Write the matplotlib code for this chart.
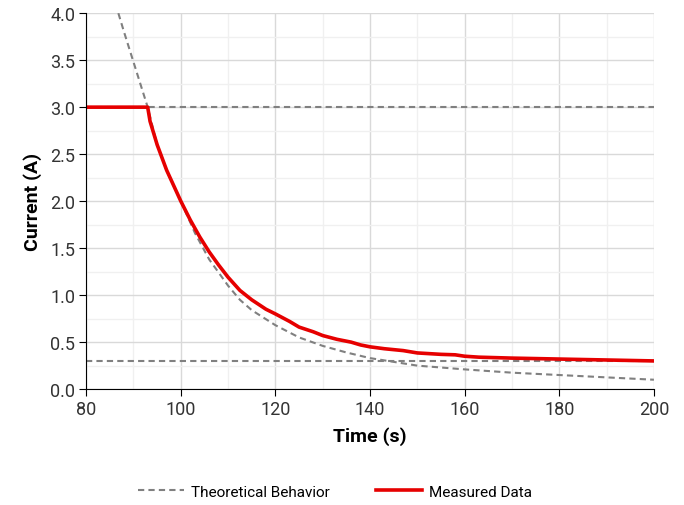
import numpy as np
import matplotlib.pyplot as plt
from matplotlib.ticker import MultipleLocator

t_meas = [80, 93, 93.5, 95, 97, 100, 102, 104, 106, 108, 110, 112.5, 115, 118, 120,
          123, 125, 128, 130, 133, 136, 138, 140, 143, 147, 150, 155, 158, 160,
          163, 170, 175, 180, 190, 200]
i_meas = [3.0, 3.0, 2.85, 2.6, 2.33, 2.0, 1.8, 1.62, 1.46, 1.32, 1.19, 1.05, 0.95, 0.85, 0.8,
          0.72, 0.66, 0.61, 0.57, 0.53, 0.5, 0.47, 0.45, 0.43, 0.41, 0.385, 0.37, 0.365, 0.35,
          0.34, 0.33, 0.325, 0.32, 0.31, 0.30]

# theoretical curve
t_theo = [86.8, 88, 90, 92, 93, 95, 97, 100, 103, 106, 110, 112.5, 115, 120, 125, 130, 135,
          140, 145, 150, 155, 160, 170, 180, 190, 200]
i_theo = [4.0, 3.8, 3.48, 3.16, 3.0, 2.6, 2.33, 2.0, 1.66, 1.38, 1.1, 0.95, 0.84, 0.68, 0.55,
          0.46, 0.39, 0.33, 0.29, 0.25, 0.23, 0.21, 0.175, 0.15, 0.125, 0.1]

# limits
i_max = 3.0
i_min = 0.3

plt.rcParams['font.family'] = ['Roboto', 'DejaVu Sans']

fig = plt.figure(figsize=(6.84, 5.06), dpi=100)
ax = fig.add_axes([0.126, 0.229, 0.83, 0.743])

ax.plot(t_theo, i_theo, color='#808080', lw=1.5, ls=(0, (3, 2)), label='Theoretical Behavior')
ax.axhline(i_max, color='#808080', lw=1.5, ls=(0, (3, 2)))
ax.axhline(i_min, color='#808080', lw=1.5, ls=(0, (3, 2)))
ax.plot(t_meas, i_meas, color='#e60000', lw=2.6, label='Measured Data')

ax.set_xlim(80, 200)
ax.set_ylim(0, 4)
ax.xaxis.set_major_locator(MultipleLocator(20))
ax.xaxis.set_minor_locator(MultipleLocator(10))
ax.yaxis.set_major_locator(MultipleLocator(0.5))
ax.yaxis.set_minor_locator(MultipleLocator(0.25))
ax.yaxis.set_major_formatter(lambda v, p: f"{v:.1f}")
ax.grid(which='major', color='#d9d9d9', lw=1)
ax.grid(which='minor', color='#f0f0f0', lw=1)
ax.set_axisbelow(True)

for s in ['top', 'right']:
    ax.spines[s].set_visible(False)
ax.tick_params(which='major', direction='out', length=5, labelsize=13, colors='black',
               labelcolor='#333333', pad=3)
ax.tick_params(which='minor', length=0)

ax.set_xlabel('Time (s)', fontsize=14, fontweight='bold', labelpad=6)
ax.set_ylabel('Current (A)', fontsize=14, fontweight='bold', labelpad=6)

fig.legend(loc='lower center', ncol=2, frameon=False, fontsize=11,
           bbox_to_anchor=(0.49, -0.015), handlelength=3, handletextpad=0.5, columnspacing=3)

fig.savefig('out.png', dpi=100)
